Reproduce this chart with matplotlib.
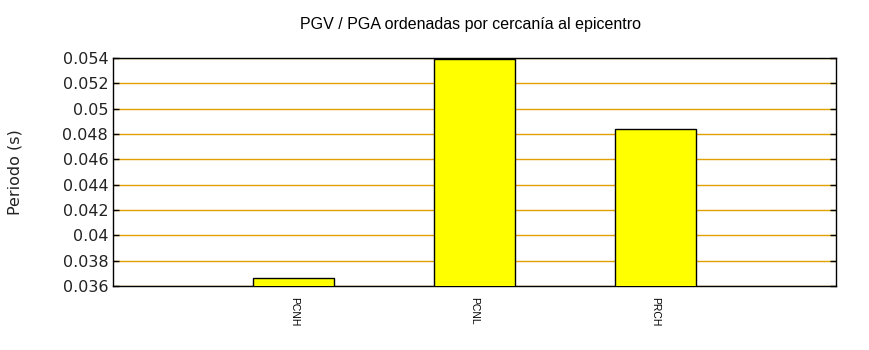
import matplotlib
matplotlib.use("Agg")
import matplotlib.pyplot as plt
import numpy as np

stations = ["PCNH", "PCNL", "PRCH"]
periods = [0.03663, 0.05392, 0.04839]
y_ticks = [0.036, 0.038, 0.04, 0.042, 0.044, 0.046, 0.048, 0.05, 0.052, 0.054]
y_labels = ["0.036", "0.038", "0.04", "0.042", "0.044", "0.046",
            "0.048", "0.05", "0.052", "0.054"]

fig = plt.figure(figsize=(8.7, 3.5), dpi=100)
ax = fig.add_axes([113 / 870, 1 - 286 / 350, 723 / 870, 228 / 350])

x = np.arange(1, len(stations) + 1)
ax.bar(x, periods, width=0.45, color="#ffff00", edgecolor="black",
       linewidth=1.0, zorder=3)

ax.set_xlim(0, 4)
ax.set_ylim(0.036, 0.054)
ax.set_yticks(y_ticks)
ax.set_yticklabels(y_labels, fontsize=11.5, family="DejaVu Sans", color="#222222")
ax.set_xticks(x)
ax.set_xticklabels(stations, rotation=270, fontsize=7.5, family="Liberation Sans")
ax.tick_params(axis="x", length=0, pad=8)
ax.tick_params(axis="y", direction="in", length=4, right=True, width=1)
ax.yaxis.grid(True, color="#e0a000", linewidth=1.0, zorder=0)
ax.set_axisbelow(True)
for s in ax.spines.values():
    s.set_linewidth(1.0)

ax.set_ylabel("Periodo (s)", fontsize=11.5, family="DejaVu Sans", color="#222222")
ax.yaxis.set_label_coords(-(113 - 23) / 723, 0.5)
fig.text(471 / 870, 1 - 25 / 350, "PGV / PGA ordenadas por cercanía al epicentro",
         ha="center", va="center", fontsize=11.5, family="Liberation Sans")

fig.savefig("out.png", dpi=100)
